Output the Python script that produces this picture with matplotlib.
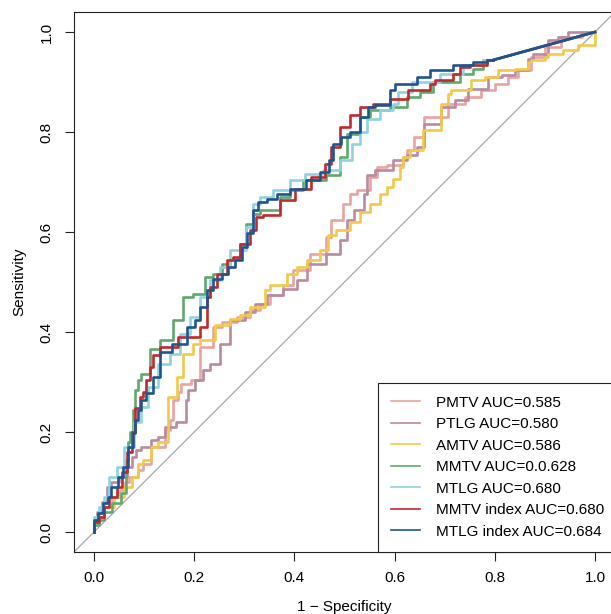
import matplotlib; matplotlib.use("Agg")
import matplotlib.pyplot as plt

# ROC curve corners (1 - specificity, sensitivity)
pmtv_x = [0, 0.005, 0.02, 0.035, 0.05, 0.061, 0.07, 0.088, 0.097, 0.114, 0.142, 0.151, 0.158, 0.168, 0.174, 0.194,
          0.212, 0.238, 0.255, 0.285, 0.311, 0.331, 0.351, 0.377, 0.397, 0.431, 0.464, 0.474, 0.498, 0.511, 0.524,
          0.551, 0.564, 0.584, 0.617, 0.624, 0.638, 0.659, 0.706, 0.74, 0.773, 0.8, 0.827, 0.847, 0.873, 0.9, 0.933,
          0.974, 0.98, 1.0]
pmtv_y = [0, 0.02, 0.03, 0.05, 0.07, 0.084, 0.1, 0.11, 0.125, 0.137, 0.17, 0.204, 0.224, 0.264, 0.28, 0.297,
          0.304, 0.37, 0.41, 0.42, 0.43, 0.444, 0.457, 0.474, 0.494, 0.524, 0.557, 0.59, 0.624, 0.657, 0.677,
          0.684, 0.71, 0.73, 0.734, 0.75, 0.764, 0.79, 0.83, 0.857, 0.87, 0.884, 0.897, 0.91, 0.924, 0.95, 0.97,
          0.99, 1.0, 1.0]
ptlg_x = [0, 0.005, 0.015, 0.025, 0.034, 0.05, 0.065, 0.075, 0.084, 0.094, 0.114, 0.128, 0.142, 0.164, 0.184, 0.188,
          0.201, 0.218, 0.232, 0.252, 0.271, 0.301, 0.321, 0.345, 0.378, 0.405, 0.425, 0.464, 0.491, 0.504, 0.518,
          0.538, 0.544, 0.561, 0.597, 0.624, 0.644, 0.659, 0.692, 0.72, 0.747, 0.787, 0.814, 0.84, 0.867, 0.877,
          0.907, 0.927, 0.947, 0.98, 1.0]
ptlg_y = [0, 0.02, 0.04, 0.06, 0.09, 0.1, 0.11, 0.13, 0.15, 0.164, 0.17, 0.184, 0.19, 0.21, 0.22, 0.264,
          0.284, 0.304, 0.324, 0.337, 0.377, 0.424, 0.44, 0.457, 0.474, 0.487, 0.504, 0.537, 0.557, 0.584, 0.624,
          0.644, 0.677, 0.714, 0.724, 0.744, 0.754, 0.77, 0.817, 0.85, 0.864, 0.887, 0.91, 0.914, 0.924, 0.947,
          0.957, 0.984, 0.99, 1.0, 1.0]
amtv_x = [0, 0, 0.02, 0.04, 0.06, 0.075, 0.088, 0.097, 0.114, 0.128, 0.148, 0.165, 0.178, 0.198, 0.212, 0.242,
          0.271, 0.291, 0.311, 0.341, 0.351, 0.385, 0.405, 0.425, 0.451, 0.467, 0.484, 0.511, 0.531, 0.551, 0.571,
          0.584, 0.597, 0.611, 0.617, 0.631, 0.657, 0.692, 0.706, 0.712, 0.752, 0.78, 0.806, 0.84, 0.867, 0.873,
          0.9, 0.907, 0.937, 0.967, 1.0, 1.0]
amtv_y = [0, 0.02, 0.03, 0.05, 0.07, 0.09, 0.11, 0.137, 0.144, 0.17, 0.18, 0.27, 0.31, 0.357, 0.377, 0.384,
          0.414, 0.427, 0.434, 0.45, 0.484, 0.494, 0.517, 0.53, 0.544, 0.564, 0.594, 0.604, 0.62, 0.64, 0.657,
          0.677, 0.69, 0.707, 0.73, 0.75, 0.764, 0.804, 0.857, 0.877, 0.884, 0.904, 0.91, 0.924, 0.927, 0.94,
          0.944, 0.95, 0.957, 0.964, 0.974, 1.0]
mmtv_x = [0, 0.01, 0.02, 0.035, 0.054, 0.063, 0.068, 0.071, 0.078, 0.081, 0.088, 0.094, 0.112, 0.132, 0.158, 0.178,
          0.198, 0.222, 0.238, 0.255, 0.271, 0.291, 0.304, 0.318, 0.331, 0.371, 0.391, 0.418, 0.464, 0.491, 0.504,
          0.531, 0.551, 0.591, 0.624, 0.651, 0.677, 0.73, 0.757, 0.777, 0.797, 1.0]
mmtv_y = [0, 0.015, 0.024, 0.04, 0.058, 0.078, 0.144, 0.18, 0.2, 0.244, 0.284, 0.304, 0.317, 0.367, 0.384, 0.424,
          0.47, 0.477, 0.51, 0.517, 0.537, 0.547, 0.577, 0.617, 0.637, 0.644, 0.67, 0.684, 0.704, 0.714, 0.75,
          0.797, 0.83, 0.844, 0.85, 0.87, 0.88, 0.9, 0.917, 0.927, 0.944, 1.0]
mtlg_x = [0, 0.01, 0.02, 0.03, 0.046, 0.06, 0.08, 0.094, 0.108, 0.128, 0.152, 0.172, 0.192, 0.212, 0.232, 0.252,
          0.271, 0.304, 0.318, 0.331, 0.358, 0.391, 0.421, 0.458, 0.491, 0.514, 0.531, 0.544, 0.571, 0.597, 0.607,
          0.634, 0.69, 0.737, 0.777, 0.797, 1.0]
mtlg_y = [0, 0.03, 0.05, 0.07, 0.11, 0.13, 0.17, 0.22, 0.25, 0.29, 0.337, 0.357, 0.397, 0.43, 0.47, 0.504,
          0.53, 0.564, 0.61, 0.657, 0.67, 0.684, 0.704, 0.717, 0.724, 0.744, 0.777, 0.8, 0.827, 0.844, 0.857,
          0.88, 0.9, 0.917, 0.934, 0.944, 1.0]
mmtv_idx_x = [0, 0.01, 0.02, 0.03, 0.045, 0.055, 0.065, 0.075, 0.082, 0.091, 0.097, 0.104, 0.112, 0.118, 0.132,
              0.168, 0.212, 0.225, 0.232, 0.245, 0.265, 0.278, 0.291, 0.311, 0.324, 0.338, 0.371, 0.401, 0.434,
              0.461, 0.474, 0.491, 0.511, 0.531, 0.557, 0.591, 0.627, 0.671, 0.68, 0.717, 0.73, 0.75, 0.784, 0.797,
              1.0]
mmtv_idx_y = [0, 0.02, 0.03, 0.05, 0.07, 0.09, 0.12, 0.16, 0.2, 0.248, 0.27, 0.28, 0.304, 0.33, 0.354,
              0.37, 0.39, 0.41, 0.47, 0.49, 0.517, 0.544, 0.55, 0.577, 0.604, 0.63, 0.634, 0.664, 0.687,
              0.71, 0.737, 0.77, 0.81, 0.834, 0.85, 0.857, 0.867, 0.884, 0.897, 0.904, 0.917, 0.93, 0.934, 0.944,
              1.0]
mtlg_idx_x = [0, 0.008, 0.018, 0.028, 0.034, 0.048, 0.058, 0.068, 0.078, 0.081, 0.088, 0.094, 0.104, 0.118, 0.132,
              0.155, 0.185, 0.202, 0.212, 0.225, 0.238, 0.255, 0.268, 0.281, 0.295, 0.305, 0.318, 0.328, 0.345,
              0.365, 0.391, 0.424, 0.451, 0.469, 0.477, 0.494, 0.511, 0.531, 0.547, 0.561, 0.591, 0.601, 0.644,
              0.671, 0.717, 0.757, 0.784, 0.797, 1.0]
mtlg_idx_y = [0, 0.024, 0.038, 0.058, 0.07, 0.09, 0.11, 0.13, 0.17, 0.198, 0.224, 0.244, 0.264, 0.278, 0.31,
              0.36, 0.377, 0.41, 0.424, 0.45, 0.484, 0.507, 0.517, 0.53, 0.544, 0.571, 0.598, 0.644, 0.66,
              0.667, 0.677, 0.687, 0.704, 0.72, 0.744, 0.777, 0.79, 0.80, 0.83, 0.85, 0.854, 0.884, 0.897,
              0.91, 0.924, 0.934, 0.94, 0.944, 1.0]

labels = ["PMTV AUC=0.585", "PTLG AUC=0.580", "AMTV AUC=0.586", "MMTV AUC=0.0.628",
          "MTLG AUC=0.680", "MMTV index AUC=0.680", "MTLG index AUC=0.684"]
colors = ["#EBA3A0", "#B98AA0", "#F2C94A", "#5FA96E", "#8FD3DE", "#BF2A2E", "#1E5590"]
series = [(pmtv_x, pmtv_y, False), (ptlg_x, ptlg_y, False), (amtv_x, amtv_y, False), (mmtv_x, mmtv_y, True),
          (mtlg_x, mtlg_y, True), (mmtv_idx_x, mmtv_idx_y, True), (mtlg_idx_x, mtlg_idx_y, True)]

plt.rcParams["font.family"] = ["Liberation Sans", "DejaVu Sans"]
fig = plt.figure(figsize=(6.11, 6.14), dpi=100)
ax = fig.add_axes([74 / 611, 62 / 614, 541 / 611, 540 / 614])
ax.set_xlim(-0.04, 1.04); ax.set_ylim(-0.04, 1.04)

ax.axline((0, 0), (1, 1), color="#A8A8A8", lw=0.9, zorder=1)
for (xs, ys, tail), col, lab in zip(series, colors, labels):
    n = len(xs) - 1 if tail else len(xs)       # last point joined by a straight line (no more thresholds)
    ax.plot(xs[:n], ys[:n], drawstyle="steps-pre", color=col, lw=1.9, label=lab, zorder=2)
    if tail:
        ax.plot(xs[n - 1:], ys[n - 1:], color=col, lw=1.9, zorder=2)

ax.set_xticks([0, 0.2, 0.4, 0.6, 0.8, 1.0]); ax.set_yticks([0, 0.2, 0.4, 0.6, 0.8, 1.0])
ax.xaxis.set_major_formatter(plt.FormatStrFormatter("%.1f")); ax.yaxis.set_major_formatter(plt.FormatStrFormatter("%.1f"))
ax.tick_params(length=6.5, width=0.8, labelsize=11, color="#222222")
ax.tick_params(axis="x", pad=7); ax.tick_params(axis="y", pad=8)
plt.setp(ax.get_yticklabels(), rotation=90, va="center")
for s in ax.spines.values():
    s.set_linewidth(0.8); s.set_color("#222222")
ax.set_xlabel("1 \u2212 Specificity", fontsize=11)
ax.set_ylabel("Sensitivity", fontsize=11)
ax.xaxis.set_label_coords(0.5, -0.088)
ax.yaxis.set_label_coords(-0.088, 0.5)

leg = ax.legend(loc="lower left", bbox_to_anchor=(378 / 611, 62 / 614), bbox_transform=fig.transFigure,
                fontsize=11, fancybox=False, edgecolor="#222222", framealpha=1, borderaxespad=0,
                handlelength=1.9, handletextpad=1.0, borderpad=0.87, labelspacing=0.49)
leg.get_frame().set_linewidth(0.8)
for h in leg.get_lines():
    h.set_linewidth(1.2)

fig.savefig("out.png", dpi=100)
